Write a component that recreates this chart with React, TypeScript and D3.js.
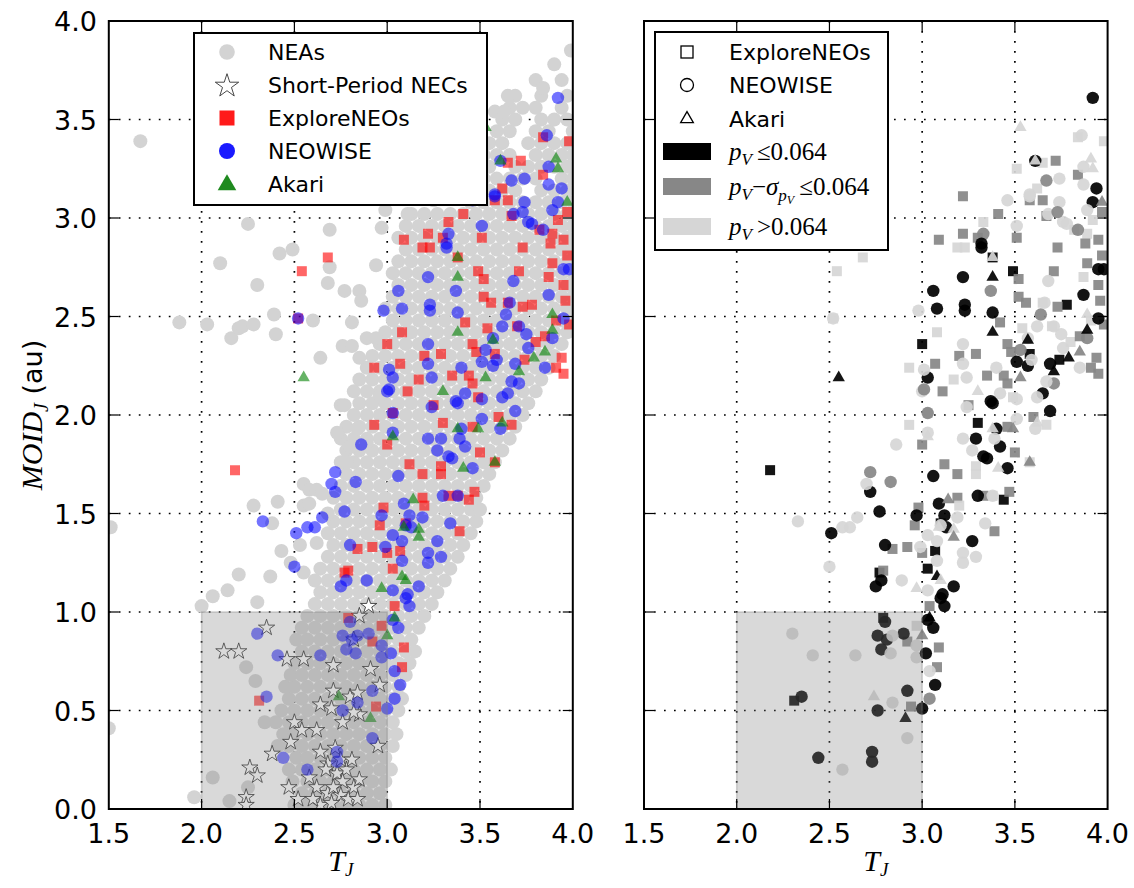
import * as d3 from 'd3'

// axis ticks
const tjTicks = [1.5, 2.0, 2.5, 3.0, 3.5, 4.0]
const moidTicks = [0.0, 0.5, 1.0, 1.5, 2.0, 2.5, 3.0, 3.5, 4.0]

// NEA cloud, read row by row: [MOID_J, [T_J, ...]]
const neaRows: [number, number[]][] = [
  [0.02, [2.5, 2.57, 2.64, 2.71, 2.78, 2.85, 2.92, 2.99]],
  [0.08, [2.54, 2.61, 2.68, 2.75, 2.82, 2.89, 2.96]],
  [0.14, [2.49, 2.57, 2.64, 2.71, 2.78, 2.85, 2.92, 2.99]],
  [0.2, [2.47, 2.54, 2.61, 2.68, 2.75, 2.82, 2.89, 2.96, 3.02]],
  [0.26, [2.51, 2.57, 2.64, 2.71, 2.78, 2.85, 2.92, 2.99]],
  [0.32, [2.41, 2.47, 2.54, 2.61, 2.68, 2.75, 2.82, 2.89, 2.96, 3.03]],
  [0.38, [2.44, 2.5, 2.57, 2.64, 2.71, 2.78, 2.85, 2.92, 2.99, 3.05]],
  [0.44, [2.4, 2.47, 2.54, 2.61, 2.68, 2.75, 2.82, 2.89, 2.96, 3.03]],
  [0.5, [2.43, 2.5, 2.57, 2.64, 2.71, 2.78, 2.85, 2.92, 2.99, 3.06]],
  [0.56, [2.47, 2.54, 2.61, 2.68, 2.75, 2.82, 2.89, 2.96, 3.03, 3.08]],
  [0.62, [2.45, 2.5, 2.57, 2.64, 2.71, 2.78, 2.85, 2.92, 2.99, 3.06]],
  [0.68, [2.48, 2.54, 2.61, 2.68, 2.75, 2.82, 2.89, 2.96, 3.03, 3.1]],
  [0.74, [2.5, 2.57, 2.64, 2.71, 2.78, 2.85, 2.92, 2.99, 3.06, 3.12]],
  [0.8, [2.54, 2.61, 2.68, 2.75, 2.82, 2.89, 2.96, 3.03, 3.1, 3.15]],
  [0.86, [2.51, 2.57, 2.64, 2.71, 2.78, 2.85, 2.92, 2.99, 3.06, 3.13]],
  [0.92, [2.54, 2.61, 2.68, 2.75, 2.82, 2.89, 2.96, 3.03, 3.1, 3.17]],
  [0.98, [2.57, 2.64, 2.71, 2.78, 2.85, 2.92, 2.99, 3.06, 3.13, 3.2]],
  [1.04, [2.61, 2.68, 2.75, 2.82, 2.89, 2.96, 3.03, 3.1, 3.17, 3.24]],
  [1.1, [2.64, 2.71, 2.78, 2.85, 2.92, 2.99, 3.06, 3.13, 3.2, 3.27]],
  [1.16, [2.61, 2.68, 2.75, 2.82, 2.89, 2.96, 3.03, 3.1, 3.17, 3.24, 3.31]],
  [1.22, [2.64, 2.71, 2.78, 2.85, 2.92, 2.99, 3.06, 3.13, 3.2, 3.27, 3.34]],
  [1.28, [2.68, 2.75, 2.82, 2.89, 2.96, 3.03, 3.1, 3.17, 3.24, 3.31, 3.38]],
  [1.34, [2.71, 2.78, 2.85, 2.92, 2.99, 3.06, 3.13, 3.2, 3.27, 3.34, 3.41]],
  [1.4, [2.68, 2.75, 2.82, 2.89, 2.96, 3.03, 3.1, 3.17, 3.24, 3.31, 3.38, 3.45]],
  [1.46, [2.71, 2.78, 2.85, 2.92, 2.99, 3.06, 3.13, 3.2, 3.27, 3.34, 3.41, 3.48]],
  [1.52, [2.75, 2.82, 2.89, 2.96, 3.03, 3.1, 3.17, 3.24, 3.31, 3.38, 3.45, 3.5]],
  [1.58, [2.71, 2.78, 2.85, 2.92, 2.99, 3.06, 3.13, 3.2, 3.27, 3.34, 3.41, 3.48]],
  [1.64, [2.75, 2.82, 2.89, 2.96, 3.03, 3.1, 3.17, 3.24, 3.31, 3.38, 3.45, 3.52]],
  [1.7, [2.78, 2.85, 2.92, 2.99, 3.06, 3.13, 3.2, 3.27, 3.34, 3.41, 3.48, 3.55]],
  [1.76, [2.75, 2.82, 2.89, 2.96, 3.03, 3.1, 3.17, 3.24, 3.31, 3.38, 3.45, 3.52, 3.58]],
  [1.82, [2.78, 2.85, 2.92, 2.99, 3.06, 3.13, 3.2, 3.27, 3.34, 3.41, 3.48, 3.55, 3.62]],
  [1.88, [2.75, 2.82, 2.89, 2.96, 3.03, 3.1, 3.17, 3.24, 3.31, 3.38, 3.45, 3.52, 3.59, 3.66]],
  [1.94, [2.78, 2.85, 2.92, 2.99, 3.06, 3.13, 3.2, 3.27, 3.34, 3.41, 3.48, 3.55, 3.62, 3.69]],
  [2.0, [2.82, 2.89, 2.96, 3.03, 3.1, 3.17, 3.24, 3.31, 3.38, 3.45, 3.52, 3.59, 3.66, 3.73]],
  [2.06, [2.85, 2.92, 2.99, 3.06, 3.13, 3.2, 3.27, 3.34, 3.41, 3.48, 3.55, 3.62, 3.69, 3.76]],
  [2.12, [2.82, 2.89, 2.96, 3.03, 3.1, 3.17, 3.24, 3.31, 3.38, 3.45, 3.52, 3.59, 3.66, 3.73, 3.8]],
  [2.18, [2.85, 2.92, 2.99, 3.06, 3.13, 3.2, 3.27, 3.34, 3.41, 3.48, 3.55, 3.62, 3.69, 3.76, 3.83]],
  [2.24, [2.89, 2.96, 3.03, 3.1, 3.17, 3.24, 3.31, 3.38, 3.45, 3.52, 3.59, 3.66, 3.73, 3.8, 3.87]],
  [2.3, [2.92, 2.99, 3.06, 3.13, 3.2, 3.27, 3.34, 3.41, 3.48, 3.55, 3.62, 3.69, 3.76, 3.83, 3.9]],
  [2.36, [2.96, 3.03, 3.1, 3.17, 3.24, 3.31, 3.38, 3.45, 3.52, 3.59, 3.66, 3.73, 3.8, 3.87, 3.94]],
  [2.42, [2.99, 3.06, 3.13, 3.2, 3.27, 3.34, 3.41, 3.48, 3.55, 3.62, 3.69, 3.76, 3.83, 3.9, 3.97]],
  [2.48, [3.03, 3.1, 3.17, 3.24, 3.31, 3.38, 3.45, 3.52, 3.59, 3.66, 3.73, 3.8, 3.87, 3.94, 4.0]],
  [2.54, [2.99, 3.06, 3.13, 3.2, 3.27, 3.34, 3.41, 3.48, 3.55, 3.62, 3.69, 3.76, 3.83, 3.9, 3.97]],
  [2.6, [3.03, 3.1, 3.17, 3.24, 3.31, 3.38, 3.45, 3.52, 3.59, 3.66, 3.73, 3.8, 3.87, 3.94, 4.0]],
  [2.66, [3.06, 3.13, 3.2, 3.27, 3.34, 3.41, 3.48, 3.55, 3.62, 3.69, 3.76, 3.83, 3.9, 3.97]],
  [2.72, [3.03, 3.1, 3.17, 3.24, 3.31, 3.38, 3.45, 3.52, 3.59, 3.66, 3.73, 3.8, 3.87, 3.94, 4.0]],
  [2.78, [3.06, 3.13, 3.2, 3.27, 3.34, 3.41, 3.48, 3.55, 3.62, 3.69, 3.76, 3.83, 3.9, 3.97]],
  [2.84, [3.1, 3.17, 3.24, 3.31, 3.38, 3.45, 3.52, 3.59, 3.66, 3.73, 3.8, 3.87, 3.94, 4.0]],
  [2.9, [3.06, 3.13, 3.2, 3.27, 3.34, 3.41, 3.48, 3.55, 3.62, 3.69, 3.76, 3.83, 3.9, 3.97]],
  [2.96, [3.1, 3.17, 3.24, 3.31, 3.38, 3.45, 3.52, 3.59, 3.66, 3.73, 3.8, 3.87, 3.94, 4.0]],
  [3.02, [3.13, 3.2, 3.27, 3.34, 3.41, 3.48, 3.55, 3.62, 3.69, 3.76, 3.83, 3.9, 3.97]],
  [3.08, [3.45, 3.52, 3.59, 3.66, 3.73, 3.8, 3.87, 3.94, 4.0]],
  [3.14, [3.48, 3.55, 3.62, 3.69, 3.83, 3.9, 3.97]],
  [3.2, [3.52, 3.59, 3.66, 3.73, 3.8, 3.94, 4.0]],
  [3.26, [3.55, 3.69, 3.76, 3.83, 3.9, 3.97]],
  [3.32, [3.52, 3.59, 3.66, 3.8, 3.87, 3.94, 4.0]],
  [3.38, [3.55, 3.62, 3.76, 3.83, 3.9, 3.97]],
  [3.44, [3.59, 3.66, 3.8, 3.87, 4.0]],
  [3.5, [3.62, 3.69, 3.83, 3.9, 3.97]],
  [3.56, [3.66, 3.73, 3.8, 3.94]],
  [3.62, [3.69, 3.83, 3.97]],
  [3.7, [3.8, 3.94]],
  [3.78, [3.9]],
]

// NEAs lying outside the main band: [T_J, MOID_J]
const neaScatter: [number, number][] = [
  [1.67, 3.39], [2.25, 2.97], [2.1, 2.77], [2.3, 2.66], [2.42, 2.82], [2.49, 2.84], [2.69, 2.94],
  [2.69, 2.75], [2.68, 2.67], [2.77, 2.63], [2.85, 2.63], [2.86, 2.58], [2.94, 2.76], [2.97, 2.95],
  [1.88, 2.47], [2.03, 2.46], [2.16, 2.39], [2.2, 2.44], [2.22, 2.45], [2.28, 2.46], [2.39, 2.51],
  [2.4, 2.41], [2.6, 2.48], [2.81, 2.47], [2.76, 2.35], [2.81, 2.35], [2.64, 2.29], [2.85, 2.29],
  [2.89, 2.39], [2.94, 2.39], [2.75, 2.05], [2.77, 2.05], [2.96, 2.1], [2.73, 1.91], [2.84, 1.93],
  [2.8, 1.84], [2.89, 1.86], [2.78, 1.76], [2.55, 1.65], [2.58, 1.62], [2.62, 1.62], [2.55, 1.54],
  [2.58, 1.55], [2.28, 1.54], [2.41, 1.56], [2.38, 1.45], [2.43, 1.31], [2.53, 1.34], [2.2, 1.19],
  [2.37, 1.18], [2.14, 1.11], [2.06, 1.08], [1.51, 1.43], [1.5, 0.41], [2.3, 1.05], [2.0, 1.03],
  [2.24, 0.72], [2.29, 0.65], [2.34, 0.44], [2.06, 0.16], [1.96, 0.06], [2.15, 0.04], [2.25, 0.11],
  [2.99, 3.04], [3.11, 3.02], [3.25, 3.09], [3.99, 3.85], [3.84, 3.66], [3.65, 3.62], [3.58, 3.54],
  [3.63, 3.54], [2.48, 1.25], [2.55, 1.2], [2.65, 1.6], [2.62, 1.35], [2.68, 1.5],
]

// Short-period near-Earth comets: [T_J, MOID_J]
const necStars: [number, number][] = [
  [2.35, 0.92], [2.12, 0.8], [2.2, 0.8], [2.46, 0.76], [2.55, 0.76], [2.71, 0.73], [2.9, 1.03],
  [2.85, 0.98], [2.82, 0.86], [2.91, 0.71], [2.96, 0.63], [2.71, 0.6], [2.8, 0.57], [2.84, 0.59],
  [2.64, 0.53], [2.7, 0.51], [2.76, 0.44], [2.85, 0.48], [2.82, 0.49], [2.5, 0.44], [2.54, 0.4],
  [2.62, 0.4], [2.48, 0.34], [2.95, 0.32], [2.38, 0.28], [2.64, 0.29], [2.72, 0.31], [2.26, 0.21],
  [2.3, 0.17], [2.68, 0.23], [2.47, 0.11], [2.24, 0.06], [2.52, 0.05], [2.58, 0.16], [2.62, 0.11],
  [2.73, 0.18], [2.78, 0.2], [2.82, 0.11], [2.68, 0.08], [2.75, 0.07], [2.79, 0.05], [2.64, 0.02],
  [2.7, 0.03], [2.6, 0.05], [2.76, 0.14], [2.71, 0.11], [2.84, 0.05], [2.24, 0.02], [2.67, 0.2],
  [2.75, 0.25], [2.81, 0.25], [2.85, 0.15],
]

// observed objects: [T_J, MOID_J, albedo class]
// class 0: pV <= 0.064, 1: pV - sigma <= 0.064, 2: pV > 0.064
const exploreNEOs: [number, number, number][] = [
  [3.84, 3.41, 2], [3.98, 3.39, 2], [3.72, 3.29, 1], [3.65, 3.28, 2], [3.84, 3.22, 1], [3.62, 3.15, 2],
  [3.65, 3.09, 1], [3.58, 3.09, 1], [3.51, 3.25, 2], [3.22, 3.11, 1], [3.41, 3.02, 1], [3.67, 3.01, 1],
  [3.82, 2.94, 2], [3.89, 2.92, 2], [3.92, 2.99, 2], [3.97, 3.03, 1], [3.33, 2.98, 2], [3.22, 2.92, 1],
  [3.09, 2.89, 1], [3.19, 2.85, 2], [3.23, 2.85, 2], [3.3, 2.9, 1], [3.38, 2.8, 0], [3.51, 2.9, 1],
  [3.73, 2.85, 1], [3.88, 2.87, 1], [3.95, 2.89, 1], [2.68, 2.8, 2], [2.54, 2.73, 2], [3.49, 2.73, 0],
  [3.52, 2.69, 1], [3.71, 2.73, 1], [3.89, 2.77, 1], [3.87, 2.7, 2], [3.52, 2.6, 1], [3.56, 2.57, 1],
  [3.65, 2.57, 2], [3.78, 2.56, 0], [3.73, 2.55, 1], [3.42, 2.47, 1], [3.08, 2.42, 2], [3.54, 2.44, 2],
  [3.7, 2.45, 2], [3.8, 2.37, 2], [3.46, 2.36, 1], [3.48, 2.32, 1], [3.58, 2.31, 0], [3.74, 2.28, 0],
  [3.94, 2.29, 1], [3.0, 2.36, 0], [3.2, 2.3, 1], [3.29, 2.31, 1], [3.07, 2.26, 1], [2.93, 2.24, 2],
  [2.18, 1.72, 0], [3.11, 2.12, 1], [3.17, 2.18, 2], [3.35, 2.2, 1], [3.44, 2.2, 1], [3.46, 2.16, 1],
  [3.49, 2.09, 2], [3.91, 2.24, 1], [3.95, 2.21, 1], [3.03, 2.01, 2], [2.93, 1.95, 2], [3.25, 2.05, 1],
  [3.3, 1.96, 0], [3.46, 1.94, 1], [3.6, 1.99, 1], [3.67, 1.95, 2], [3.0, 1.85, 1], [3.5, 1.81, 1],
  [3.12, 1.75, 1], [3.19, 1.7, 1], [3.29, 1.74, 2], [3.29, 1.7, 2], [3.58, 1.76, 2], [3.38, 1.59, 2],
  [3.44, 1.57, 0], [3.47, 1.61, 1], [3.33, 1.59, 1], [3.19, 1.58, 1], [3.2, 1.54, 2], [2.98, 1.53, 1],
  [2.96, 1.44, 1], [3.1, 1.45, 0], [3.39, 1.41, 1], [2.84, 1.32, 1], [2.92, 1.33, 1], [3.07, 1.31, 0],
  [3.0, 1.3, 1], [2.77, 1.2, 0], [2.79, 1.21, 1], [3.03, 1.22, 0], [3.04, 1.03, 1], [2.97, 0.93, 2],
  [2.79, 0.97, 0], [2.92, 0.85, 1], [3.09, 0.82, 1], [3.08, 0.72, 1], [2.94, 0.52, 1], [2.31, 0.55, 0],
  [3.97, 2.81, 1], [3.95, 2.66, 1], [3.91, 2.48, 2], [3.85, 2.4, 1], [3.96, 2.58, 1], [3.98, 2.46, 1],
  [2.52, 2.49, 2],
]

const neowise: [number, number, number][] = [
  [3.92, 3.61, 0], [3.61, 3.29, 0], [3.87, 3.26, 2], [3.94, 3.15, 0], [3.92, 3.08, 0], [3.67, 3.19, 1],
  [3.74, 3.2, 2], [3.58, 3.12, 2], [3.74, 3.08, 2], [3.87, 3.17, 2], [3.46, 3.09, 2], [3.76, 2.98, 2],
  [3.33, 2.92, 1], [3.32, 2.87, 0], [3.32, 2.85, 0], [3.51, 2.96, 2], [3.68, 2.68, 2], [3.95, 2.74, 0],
  [3.98, 2.74, 0], [3.22, 2.7, 0], [3.06, 2.63, 0], [3.37, 2.63, 1], [3.87, 2.61, 0], [3.08, 2.54, 0],
  [3.23, 2.56, 0], [3.23, 2.53, 0], [2.98, 2.53, 2], [3.38, 2.52, 0], [3.95, 2.49, 0], [3.62, 2.45, 2],
  [3.75, 2.41, 2], [3.51, 2.27, 0], [3.57, 2.25, 0], [3.69, 2.26, 0], [3.22, 2.36, 2], [3.22, 2.26, 2],
  [3.03, 2.19, 0], [3.0, 2.12, 2], [3.24, 2.19, 2], [3.4, 2.24, 2], [3.42, 2.11, 2], [3.37, 2.07, 0],
  [3.38, 2.06, 0], [3.65, 2.11, 0], [3.69, 2.02, 0], [3.71, 2.16, 1], [3.85, 2.24, 2], [3.24, 2.04, 2],
  [3.4, 1.93, 0], [3.51, 1.98, 2], [3.61, 1.93, 2], [3.03, 1.91, 2], [2.86, 1.85, 2], [3.22, 1.88, 2],
  [3.29, 1.88, 0], [3.42, 1.84, 0], [3.33, 1.79, 0], [3.35, 1.78, 0], [3.27, 1.82, 2], [3.46, 1.73, 0],
  [3.06, 1.69, 0], [2.72, 1.71, 1], [2.83, 1.66, 1], [2.72, 1.61, 0], [2.7, 1.65, 2], [3.3, 1.59, 0],
  [3.09, 1.55, 0], [3.12, 1.49, 0], [2.97, 1.49, 0], [3.13, 1.43, 0], [3.19, 1.48, 2], [3.34, 1.45, 2],
  [2.77, 1.51, 0], [2.65, 1.48, 2], [2.61, 1.43, 2], [2.57, 1.43, 2], [2.51, 1.4, 0], [2.33, 1.46, 2],
  [2.8, 1.34, 0], [2.99, 1.33, 2], [3.03, 1.39, 2], [3.08, 1.36, 2], [3.27, 1.36, 0], [3.22, 1.3, 2],
  [3.29, 1.28, 2], [3.22, 1.25, 2], [3.08, 1.26, 2], [2.5, 1.23, 2], [2.78, 1.16, 0], [2.75, 1.13, 0],
  [2.89, 1.16, 2], [3.17, 1.13, 0], [3.03, 1.11, 2], [3.11, 1.09, 0], [3.1, 1.07, 0], [3.12, 1.03, 0],
  [3.03, 0.96, 0], [3.06, 0.92, 0], [2.97, 0.83, 2], [2.97, 0.77, 2], [3.02, 0.79, 0], [2.8, 0.95, 0],
  [2.76, 0.88, 0], [2.81, 0.86, 0], [2.78, 0.81, 0], [2.9, 0.89, 0], [2.84, 0.88, 2], [2.83, 0.79, 2],
  [2.64, 0.78, 2], [2.41, 0.78, 2], [2.3, 0.89, 2], [3.04, 0.7, 2], [3.07, 0.63, 0], [3.04, 0.56, 1],
  [3.0, 0.51, 0], [2.92, 0.6, 0], [2.84, 0.54, 2], [2.76, 0.5, 0], [2.92, 0.36, 2], [2.73, 0.29, 0],
  [2.73, 0.24, 0], [2.44, 0.26, 0], [2.57, 0.2, 2], [2.35, 0.57, 0], [3.86, 3.42, 2], [3.58, 3.11, 2],
  [3.68, 3.02, 2], [3.73, 3.03, 1], [3.78, 2.97, 2], [3.84, 2.94, 1], [3.89, 3.04, 2], [3.66, 2.57, 2],
  [3.64, 2.51, 1], [3.71, 2.45, 2], [3.57, 2.39, 2], [3.53, 2.33, 1], [3.59, 2.28, 2], [3.76, 2.34, 2],
  [3.89, 2.39, 1], [3.51, 2.08, 2], [3.62, 2.09, 2], [3.67, 2.17, 2], [3.01, 2.23, 2], [3.01, 2.13, 1],
  [3.03, 2.01, 1], [3.39, 1.88, 2], [3.38, 1.59, 2], [3.1, 1.44, 2], [2.52, 2.49, 2],
]

const akari: [number, number, number][] = [
  [3.53, 3.46, 2], [3.61, 3.29, 2], [3.91, 3.3, 2], [3.38, 2.7, 0], [3.89, 2.51, 2], [3.38, 2.42, 0],
  [3.57, 2.38, 0], [3.79, 2.29, 0], [3.89, 2.43, 0], [2.55, 2.19, 0], [3.3, 2.12, 2], [3.71, 2.22, 0],
  [3.41, 1.73, 2], [3.14, 1.57, 1], [3.08, 1.18, 0], [3.1, 1.16, 2], [2.97, 1.12, 2], [3.0, 0.88, 1],
  [2.74, 0.57, 2], [2.91, 0.46, 0], [3.04, 0.97, 0], [3.92, 3.25, 2], [3.97, 3.08, 1], [3.38, 2.8, 2],
  [3.85, 2.32, 1], [3.53, 2.19, 1], [3.38, 1.93, 2], [3.49, 1.93, 1], [3.62, 1.96, 2], [3.03, 1.89, 2],
  [3.58, 1.76, 1], [3.17, 1.42, 2], [3.17, 1.38, 1], [3.09, 1.43, 2],
]

const albedoLabels = ['pV <= 0.064', 'pV - sigma <= 0.064', 'pV > 0.064']
const albedoFill = ['#000000', '#878787', '#d6d6d6']

const W = 1134
const H = 888
const top = 21
const bottom = 809
const y = d3.scaleLinear().domain([0, 4]).range([bottom, top])
const xL = d3.scaleLinear().domain([1.5, 4]).range([108.8, 572.8])
const xR = d3.scaleLinear().domain([1.5, 4]).range([644, 1107.6])

const sans = "'DejaVu Sans', sans-serif"
const serif = "'Liberation Serif', 'DejaVu Serif', serif"

const starPath = d3.symbol().type(d3.symbolStar).size(82)() as string
const triPath = d3.symbol().type(d3.symbolTriangle).size(66)() as string
const sqPath = d3.symbol().type(d3.symbolSquare).size(100)() as string

const at = (x: number, yy: number) => `translate(${x},${yy})`

function Panel({ x, id, yLabels, children }: any) {
  const [x0, x1] = x.range()
  return (
    <g>
      <defs>
        <clipPath id={id}>
          <rect x={x0} y={top} width={x1 - x0} height={bottom - top} />
        </clipPath>
      </defs>
      {/* dotted grid */}
      <g stroke="#000" strokeWidth={1.7} strokeDasharray="1.7,8.3">
        {tjTicks.slice(1, -1).map(t => (
          <line key={'v' + t} x1={x(t)} x2={x(t)} y1={top} y2={bottom} />
        ))}
        {moidTicks.slice(1, -1).map(m => (
          <line key={'h' + m} x1={x0} x2={x1} y1={y(m)} y2={y(m)} />
        ))}
      </g>
      <g clipPath={`url(#${id})`}>
        {children}
        <rect x={x(2)} y={y(1)} width={x(3) - x(2)} height={y(0) - y(1)}
          fill="gray" fillOpacity={0.3} stroke="gray" strokeOpacity={0.35} strokeWidth={1.5} />
      </g>
      {/* inward ticks */}
      <g stroke="#000" strokeWidth={1.2}>
        {tjTicks.slice(1, -1).map(t => (
          <g key={'t' + t}>
            <line x1={x(t)} x2={x(t)} y1={bottom} y2={bottom - 10} />
            <line x1={x(t)} x2={x(t)} y1={top} y2={top + 10} />
          </g>
        ))}
        {moidTicks.slice(1, -1).map(m => (
          <g key={'m' + m}>
            <line x1={x0} x2={x0 + 10} y1={y(m)} y2={y(m)} />
            <line x1={x1} x2={x1 - 10} y1={y(m)} y2={y(m)} />
          </g>
        ))}
      </g>
      <rect x={x0} y={top} width={x1 - x0} height={bottom - top} fill="none" stroke="#000" strokeWidth={2} />
      <g fontFamily={sans} fontSize={27} fill="#000" textAnchor="middle">
        {tjTicks.map(t => (
          <text key={'xl' + t} x={x(t)} y={843}>{t.toFixed(1)}</text>
        ))}
      </g>
      {yLabels && (
        <g fontFamily={sans} fontSize={27} fill="#000" textAnchor="end">
          {moidTicks.map(m => (
            <text key={'yl' + m} x={97} y={y(m) + 10}>{m.toFixed(1)}</text>
          ))}
        </g>
      )}
      <text x={(x0 + x1) / 2} y={871} fontFamily={serif} fontSize={30} textAnchor="middle">
        <tspan fontStyle="italic">T</tspan>
        <tspan fontStyle="italic" fontSize={19} dy={5}>J</tspan>
      </text>
    </g>
  )
}

function LeftLegend() {
  const lx = 227
  const tx = 268
  const rows = [52, 85, 118, 151, 184]
  return (
    <g>
      <rect x={194} y={33} width={293} height={172} fill="#fff" stroke="#000" strokeWidth={2} />
      <circle cx={lx} cy={rows[0]} r={7.8} fill="#d3d3d3" />
      <path d={d3.symbol().type(d3.symbolStar).size(170)() as string} transform={at(lx, rows[1] + 1)}
        fill="#fff" stroke="#333" strokeWidth={0.9} />
      <rect x={lx - 7.5} y={rows[2] - 7.5} width={15} height={15} fill="#ff1a1a" />
      <circle cx={lx} cy={rows[3]} r={8} fill="#1a1aff" />
      <path d={d3.symbol().type(d3.symbolTriangle).size(150)() as string} transform={at(lx, rows[4] + 1)} fill="#1f8a1f" />
      <g fontFamily={sans} fontSize={22} fill="#000">
        {['NEAs', 'Short-Period NECs', 'ExploreNEOs', 'NEOWISE', 'Akari'].map((s, i) => (
          <text key={s} x={tx} y={rows[i] + 8}>{s}</text>
        ))}
      </g>
    </g>
  )
}

function RightLegend() {
  const lx = 687
  const tx = 729
  return (
    <g>
      <rect x={655} y={32} width={233} height={218} fill="#fff" stroke="#000" strokeWidth={2} />
      <rect x={lx - 6} y={46} width={12} height={12} fill="none" stroke="#000" strokeWidth={1.3} />
      <circle cx={lx} cy={85} r={6.5} fill="none" stroke="#000" strokeWidth={1.3} />
      <path d={d3.symbol().type(d3.symbolTriangle).size(70)() as string} transform={at(lx, 119)}
        fill="none" stroke="#000" strokeWidth={1.3} />
      <g fontFamily={sans} fontSize={22} fill="#000">
        <text x={tx} y={60}>ExploreNEOs</text>
        <text x={tx} y={93}>NEOWISE</text>
        <text x={tx} y={127}>Akari</text>
      </g>
      {albedoFill.map((c, i) => (
        <rect key={albedoLabels[i]} x={663} y={[143, 178, 218][i]} width={48} height={17} fill={c} />
      ))}
      <g fontFamily={serif} fontSize={25} fill="#000">
        <text x={tx} y={160}>
          <tspan fontStyle="italic">p</tspan>
          <tspan fontStyle="italic" fontSize={17} dy={5}>V</tspan>
          <tspan dy={-5} dx={5}>≤0.064</tspan>
        </text>
        <text x={tx} y={195}>
          <tspan fontStyle="italic">p</tspan>
          <tspan fontStyle="italic" fontSize={17} dy={5}>V</tspan>
          <tspan dy={-5}>−</tspan>
          <tspan fontStyle="italic">σ</tspan>
          <tspan fontStyle="italic" fontSize={17} dy={6}>p</tspan>
          <tspan fontStyle="italic" fontSize={12} dy={3}>V</tspan>
          <tspan fontSize={25} dy={-9} dx={5}>≤0.064</tspan>
        </text>
        <text x={tx} y={235}>
          <tspan fontStyle="italic">p</tspan>
          <tspan fontStyle="italic" fontSize={17} dy={5}>V</tspan>
          <tspan dy={-5} dx={5}>&gt;0.064</tspan>
        </text>
      </g>
    </g>
  )
}

export default function App() {
  const neaPts: [number, number][] = []
  neaRows.forEach(([m, ts]) => ts.forEach(t => neaPts.push([t, m])))
  neaScatter.forEach(p => neaPts.push(p))

  return (
    <svg width={W} height={H} style={{ position: 'absolute', left: 0, top: 0, background: '#fff' }}>
      <Panel x={xL} id="clipL" yLabels>
        {neaPts.map(([t, m], i) => (
          <circle key={'n' + i} cx={xL(t)} cy={y(m)} r={7} fill="#d3d3d3" />
        ))}
        {necStars.map(([t, m], i) => (
          <path key={'s' + i} d={starPath} transform={at(xL(t), y(m))} fill="#fff" stroke="#222" strokeWidth={0.8} />
        ))}
        {exploreNEOs.map(([t, m], i) => (
          <path key={'e' + i} d={sqPath} transform={at(xL(t), y(m))} fill="red" fillOpacity={0.6} />
        ))}
        {neowise.map(([t, m], i) => (
          <circle key={'w' + i} cx={xL(t)} cy={y(m)} r={6.2} fill="blue" fillOpacity={0.55} />
        ))}
        {akari.map(([t, m], i) => (
          <path key={'a' + i} d={triPath} transform={at(xL(t), y(m))} fill="green" fillOpacity={0.6} />
        ))}
      </Panel>
      <Panel x={xR} id="clipR" yLabels={false}>
        {exploreNEOs.map(([t, m, c], i) => (
          <path key={'e' + i} d={sqPath} transform={at(xR(t), y(m))} fill={albedoFill[c]} fillOpacity={0.92} />
        ))}
        {neowise.map(([t, m, c], i) => (
          <circle key={'w' + i} cx={xR(t)} cy={y(m)} r={6.2} fill={albedoFill[c]} fillOpacity={0.92} />
        ))}
        {akari.map(([t, m, c], i) => (
          <path key={'a' + i} d={triPath} transform={at(xR(t), y(m))} fill={albedoFill[c]} fillOpacity={0.92} />
        ))}
      </Panel>
      <LeftLegend />
      <RightLegend />
      <text transform="translate(42,415) rotate(-90)" textAnchor="middle" fontSize={30} fill="#000">
        <tspan fontFamily={serif} fontStyle="italic">MOID</tspan>
        <tspan fontFamily={serif} fontStyle="italic" fontSize={20} dy={6}>J</tspan>
        <tspan fontFamily={sans} fontSize={27} dy={-6}> (au)</tspan>
      </text>
    </svg>
  )
}
